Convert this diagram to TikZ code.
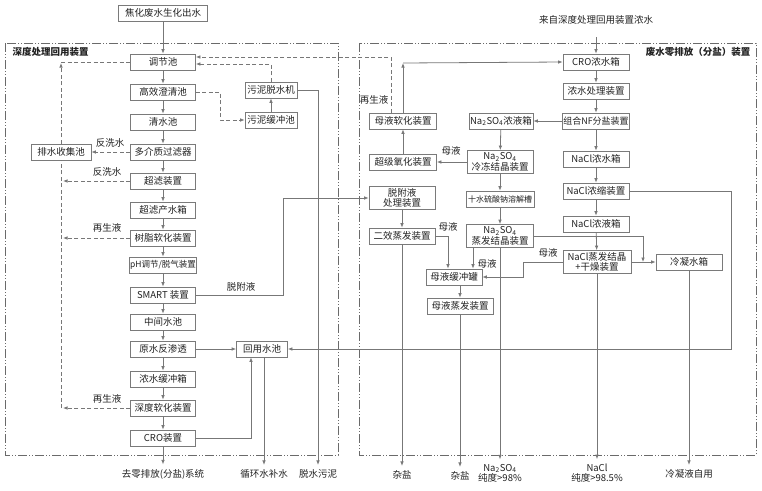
\documentclass[tikz,border=0pt]{standalone}
\usepackage{fontspec}
\setmainfont{Noto Sans CJK SC}
\usetikzlibrary{arrows.meta}
\definecolor{boxc}{HTML}{7A7A7A}
\definecolor{lnc}{HTML}{777777}
\definecolor{frc}{HTML}{6A6A6A}
\definecolor{txt}{HTML}{222222}
\newcommand\dfs{\fontsize{9.5}{10.5}\selectfont}
\newcommand\sfs{\fontsize{8.5}{10}\selectfont}
\newcommand\tfs{\fontsize{8}{10}\selectfont}
\newcommand\nas{Na\textsubscript{2}SO\textsubscript{4}}
\begin{document}
\begin{tikzpicture}[x=1pt,y=-1pt,
  box/.style={draw=boxc, line width=0.8pt, fill=white, minimum height=16pt, minimum width=65pt, inner sep=1pt, font=\dfs, text=txt, align=center},
  tall/.style={minimum height=23pt},
  ln/.style={draw=lnc, line width=0.8pt},
  arr/.style={ln, -{Latex[length=4.5pt,width=3.6pt]}},
  dsh/.style={ln, dash pattern=on 4pt off 2.5pt},
  darr/.style={dsh, -{Latex[length=4.5pt,width=3.6pt]}},
  frame/.style={draw=frc, line width=0.9pt, dash pattern=on 9pt off 2pt on 1pt off 2pt on 1pt off 2pt},
  lab/.style={font=\dfs, text=txt, inner sep=0.5pt, align=center}
]
\useasboundingbox (0,0) rectangle (762,490);
\fill[white] (0,0) rectangle (762,490);

% frames
\draw[frame] (5,43) rectangle (338,455);
\draw[frame] (359,43) rectangle (756,455);
\node[lab, font=\dfs\bfseries, anchor=west] (fl1) at (12,52) {深度处理回用装置};
\node[lab, font=\dfs\bfseries, anchor=east] (fl2) at (751,52) {废水零排放（分盐）装置};

% left column
\node[box, minimum width=89pt] (src) at (163,13) {焦化废水生化出水};
\node[box] (t1) at (163,62) {调节池};
\node[box] (t2) at (163,92) {高效澄清池};
\node[box] (t3) at (163,122) {清水池};
\node[box] (t4) at (163,152) {多介质过滤器};
\node[box] (t5) at (163,181) {超滤装置};
\node[box] (t6) at (163,210) {超滤产水箱};
\node[box] (t7) at (163,238) {树脂软化装置};
\node[box, font=\sfs] (t8) at (163,265) {pH调节/脱气装置};
\node[box] (t9) at (163,295) {SMART 装置};
\node[box] (t10) at (163,322) {中间水池};
\node[box] (t11) at (163,349) {原水反渗透};
\node[box] (t12) at (163,379) {浓水缓冲箱};
\node[box] (t13) at (163,408) {深度软化装置};
\node[box] (t14) at (163,438) {CRO装置};

\node[box, minimum width=52pt] (sl2) at (271,90) {污泥脱水机};
\node[box, minimum width=52pt] (sl1) at (271,120) {污泥缓冲池};
\node[box, minimum width=60pt] (drain) at (61,152) {排水收集池};
\node[box, minimum width=51pt] (reuse) at (262,349) {回用水池};

% right section
\node[lab] (rin) at (596,20) {来自深度处理回用装置浓水};
\node[box, minimum width=66pt] (r1) at (596,62) {CRO浓水箱};
\node[box, minimum width=66pt] (r2) at (596,91) {浓水处理装置};
\node[box, minimum width=66pt, font=\fontsize{9}{10}\selectfont] (r3) at (596,121) {组合NF分盐装置};
\node[box, minimum width=66pt] (r4) at (596,159) {NaCl浓水箱};
\node[box, minimum width=66pt] (r5) at (596,191) {NaCl浓缩装置};
\node[box, minimum width=66pt] (r6) at (596,224) {NaCl浓液箱};
\node[box, tall, minimum width=68pt] (r7) at (597,262) {NaCl蒸发结晶\\+干燥装置};
\node[box, minimum width=66pt] (cw) at (689,262) {冷凝水箱};

\node[box, minimum width=64pt] (m1) at (501,121) {\nas 浓液箱};
\node[box, tall, minimum width=66pt] (m2) at (500,162) {\nas\\冷冻结晶装置};
\node[box, minimum width=68pt, font=\tfs] (m3) at (500,199) {十水硫酸钠溶解槽};
\node[box, tall, minimum width=67pt] (m4) at (500,236) {\nas\\蒸发结晶装置};
\node[box, minimum width=56pt] (mb) at (454,277) {母液缓冲罐};
\node[box, minimum width=66pt] (me) at (460,306) {母液蒸发装置};

\node[box, minimum width=67pt] (k1) at (403,121) {母液软化装置};
\node[box, minimum width=67pt] (k2) at (403,162) {超级氧化装置};
\node[box, tall, minimum width=66pt] (k3) at (402,198) {脱附液\\处理装置};
\node[box, minimum width=66pt] (k4) at (402,236) {二效蒸发装置};

% outputs
\node[lab] (o1) at (163,474) {去零排放(分盐)系统};
\node[lab] (o2) at (264,474) {循环水补水};
\node[lab] (o3) at (318,474) {脱水污泥};
\node[lab] (o4) at (402,475) {杂盐};
\node[lab] (o6) at (460,476) {杂盐};
\node[lab, font=\fontsize{9.5}{10}\selectfont] (o5) at (500,473) {\nas\\纯度>98\%};
\node[lab, font=\fontsize{9.5}{10}\selectfont] (o7) at (597,473) {NaCl\\纯度>98.5\%};
\node[lab] (o8) at (689,474) {冷凝液自用};

% left chain
\draw[arr] (src) -- (t1);
\foreach \a/\b in {t1/t2,t2/t3,t3/t4,t4/t5,t5/t6,t6/t7,t7/t8,t8/t9,t9/t10,t10/t11,t11/t12,t12/t13,t13/t14}
  \draw[arr] (\a) -- (\b);
\draw[arr, shorten >=4pt] (t14) -- (o1.north);

% sludge
\draw[darr] (t2.east) -- (220,92) -- (220,120) -- (sl1.west);
\draw[arr] (sl1) -- (sl2);
\draw[darr] (sl2.north) -- (271,64) -- ([yshift=-2pt]t1.east);
\draw[arr, shorten >=4pt] (sl2.east) -| (o3.north);

% drain collection
\draw[darr] (t4.west) -- (drain.east);
\node[lab] (w1) at (110,143) {反洗水};
\draw[darr] (t5.west) -- (63,181);
\node[lab] (w2) at (107,172) {反洗水};
\draw[darr] (t7.west) -- (63,238);
\node[lab] (w3) at (107,228) {再生液};
\draw[darr] (t13.west) -- (63,408);
\node[lab] (w4) at (107,399) {再生液};
\draw[dsh] (61,408) -- (drain.south);
\draw[darr] (drain.north) -- (61,63);
\draw[dsh] (61,62) -- (t1.west);

% SMART desorption
\draw[arr] (t9.east) -- (283,295) -- (283,198) -- (k3.west);
\node[lab] (w5) at (241,287) {脱附液};

% reuse pool
\draw[arr] (t11.east) -- (reuse.west);
\draw[arr] (t14.east) -| ([xshift=-11pt]reuse.south);
\draw[arr, shorten >=4pt] ([xshift=2pt]reuse.south) -- (o2.north);
\draw[arr] (r5.east) -- (731,191) |- (reuse.east);

% right chain
\draw[arr, shorten <=12pt] (rin.south) -- (r1.north);
\draw[arr] (r1) -- (r2);
\draw[arr] (r2) -- (r3);
\draw[arr] (r3.west) -- (m1.east);
\draw[arr] (r3) -- (r4);
\draw[arr] (r4) -- (r5);
\draw[arr] (r5) -- (r6);
\draw[arr] (r6) -- (r7);
\draw[arr] (m1) -- (m2);
\draw[arr] (m2) -- (m3);
\draw[arr] (m3) -- (m4);
\draw[arr] (m2.west) -- (k2.east);
\node[lab] (w6) at (451,151) {母液};
\draw[arr] (k2) -- (k1);
\draw[arr] (k1.north) -- (403,63);
\draw[arr] (403,63) -- (r1.west);
\draw[darr] ([xshift=-12pt]k1.north) -- (391,57) -- ([yshift=5pt]t1.east);
\node[lab] (w7) at (374,100) {再生液};
\draw[arr] (k3) -- (k4);
\draw[arr, shorten >=4pt] (k4.south) -- (o4.north);
\draw[arr] (k4.east) -| ([xshift=-6pt]mb.north);
\node[lab] (w8) at (448,227) {母液};
\draw[arr] ([xshift=-27pt]m4.south) -- ([xshift=19pt]mb.north);
\node[lab] (w9) at (487,264) {母液};
\draw[arr, shorten >=4pt] (m4.south) -- (o5.north);
\coordinate (jn) at (643,262);
\draw[arr] (m4.east) -| (jn);
\draw[arr] (r7.east) -- (cw.west);
\draw[arr] (r7.west) -- (523,262) -- (523,277) -- (mb.east);
\node[lab] (w10) at (548,253) {母液};
\draw[arr] ([xshift=6pt]mb.south) -- (me.north);
\draw[arr, shorten >=4pt] (me.south) -- (o6.north);
\draw[arr, shorten >=4pt] (r7.south) -- (o7.north);
\draw[arr, shorten >=4pt] (cw.south) -- (o8.north);
\end{tikzpicture}
\end{document}
